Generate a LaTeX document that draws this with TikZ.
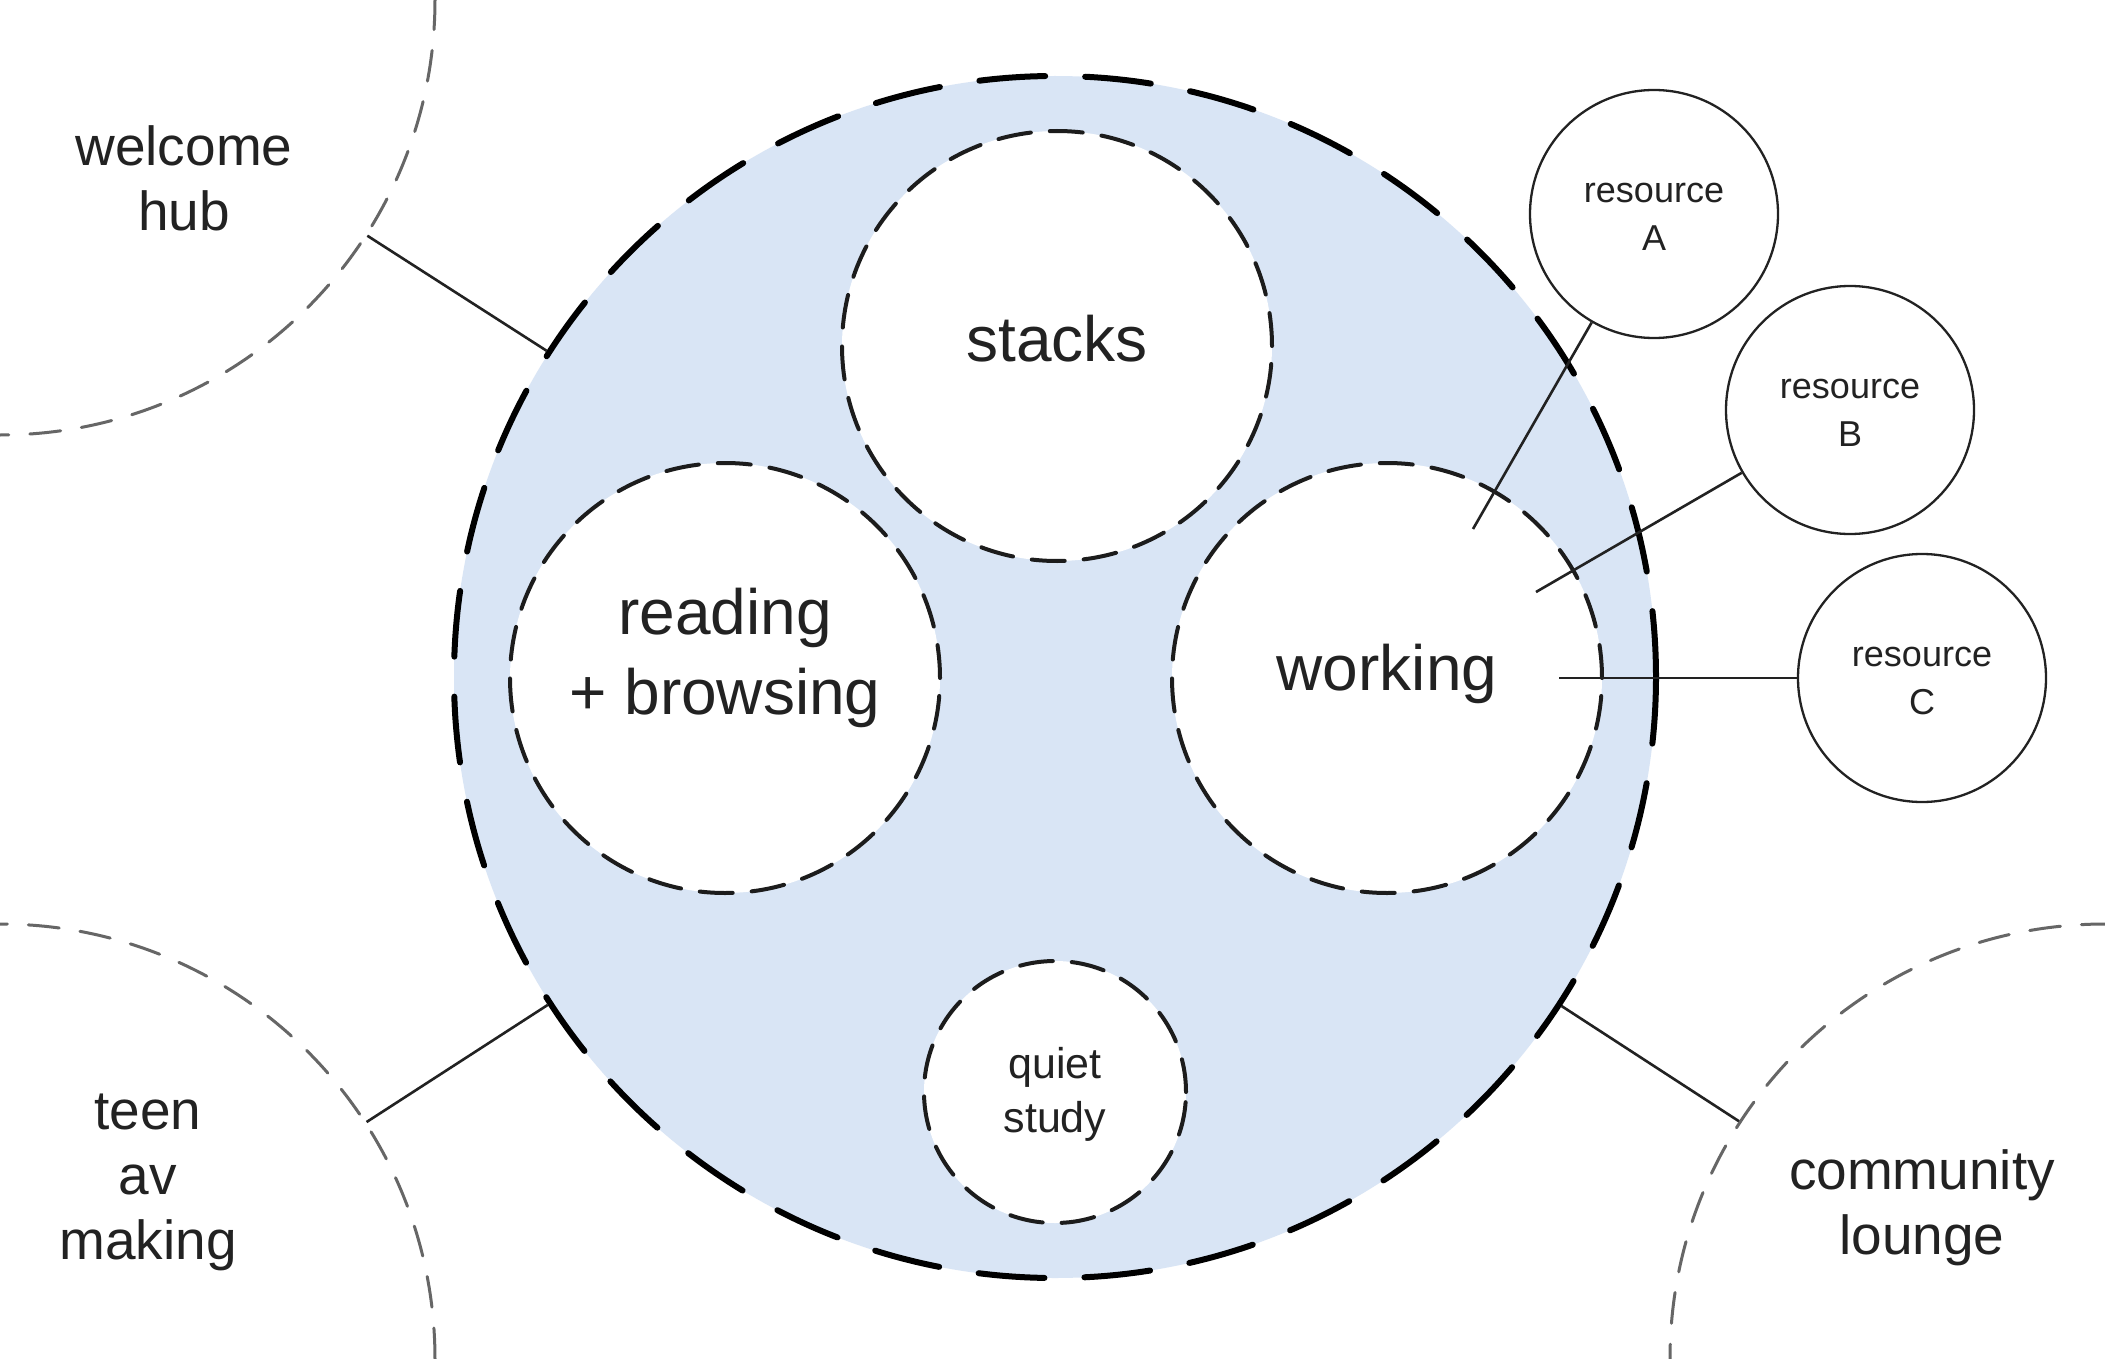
\documentclass[tikz,border=0pt]{standalone}
\usepackage{fontspec}
\setmainfont{Liberation Sans}
\definecolor{zonefill}{HTML}{D9E5F5}
\definecolor{ink}{HTML}{222222}
\definecolor{innerline}{HTML}{1C1C1C}
\definecolor{cornergray}{HTML}{666666}
\begin{document}
\begin{tikzpicture}[x=1pt,y=-1pt,
  mainzone/.style={circle, draw=black, fill=zonefill, line width=6pt, dash pattern=on 66pt off 40pt, line cap=round, minimum size=1202pt, inner sep=0pt},
  innerzone/.style={circle, draw=innerline, fill=white, line width=4pt, dash pattern=on 33pt off 19pt, line cap=round, inner sep=0pt},
  cornerzone/.style={circle, draw=cornergray, line width=3pt, dash pattern=on 31pt off 21pt, line cap=round, minimum size=870pt, inner sep=0pt},
  resnode/.style={circle, draw=ink, fill=white, line width=2.3pt, minimum size=248pt, inner sep=0pt},
  link/.style={draw=ink, line width=2.6pt},
  lbl/.style={text=ink, align=center, inner sep=0pt},
  biglbl/.style={lbl, font=\fontsize{64}{80}\selectfont},
  cornerlbl/.style={lbl, font=\fontsize{55}{65}\selectfont},
  reslbl/.style={lbl, font=\fontsize{36}{48}\selectfont},
  quietlbl/.style={lbl, font=\fontsize{43}{54}\selectfont}
]
\useasboundingbox (0,0) rectangle (2105,1359);
\fill[white] (0,0) rectangle (2105,1359);
\clip (0,0) rectangle (2105,1359);

% corner zones
\node[cornerzone] (wel) at (0,0) {};
\node[cornerzone] (teen) at (0,1359) {};
\node[cornerzone] (comm) at (2105,1359) {};

% main zone
\node[mainzone] (main) at (1055,677) {};

% links from corner zones to main zone
\draw[link] (wel) -- (main);
\draw[link] (teen) -- (main);
\draw[link] (comm) -- (main);

% inner zones
\node[innerzone, minimum size=430pt] (stacks) at (1057,346) {};
\node[innerzone, minimum size=430pt] (read) at (725,678) {};
\node[innerzone, minimum size=430pt] (work) at (1387,678) {};
\node[innerzone, minimum size=262pt] (quiet) at (1055,1092) {};

% resources
\node[resnode] (resA) at (1654,214) {};
\node[resnode] (resB) at (1850,410) {};
\node[resnode] (resC) at (1922,678) {};

\coordinate (wA) at (1473,529);
\coordinate (wB) at (1536,592);
\coordinate (wC) at (1559,678);
\draw[link] (wA) -- (resA);
\draw[link] (wB) -- (resB);
\draw[link] (wC) -- (resC);

% labels
\node[cornerlbl] (tWel) at (184,178) {welcome\\hub};
\node[cornerlbl] (tTeen) at (148,1182) {teen\\av\\making};
\node[cornerlbl] (tComm) at (1922,1208) {community\\lounge};
\node[biglbl] (tStacks) at (1057,339) {stacks};
\node[biglbl] (tRead) at (725,658) {reading\\+ browsing};
\node[biglbl] (tWork) at (1387,674) {working};
\node[quietlbl] (tQuiet) at (1055,1094) {quiet\\study};
\node[reslbl] (tA) at (1654,217) {resource\\A};
\node[reslbl] (tB) at (1850,413) {resource\\B};
\node[reslbl] (tC) at (1922,681) {resource\\C};
\end{tikzpicture}
\end{document}
